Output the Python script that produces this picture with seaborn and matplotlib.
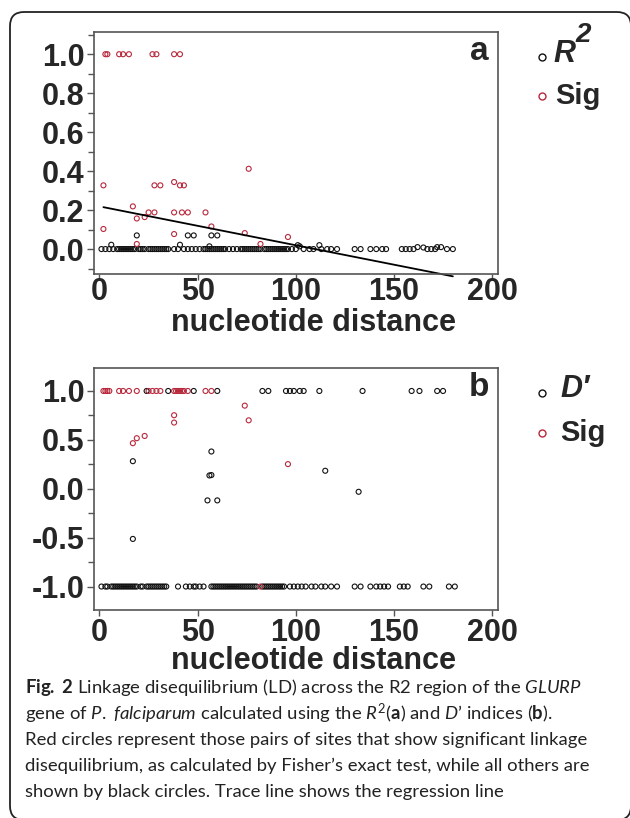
import matplotlib
matplotlib.use("Agg")
import pandas as pd
import matplotlib.pyplot as plt
import seaborn as sns
from matplotlib.lines import Line2D
from matplotlib.patches import FancyBboxPatch
from matplotlib.ticker import MultipleLocator

# ========== Data ==========
# Panel a: R^2 vs nucleotide distance
r2_zero_x = [1, 3, 5, 7, 9, 10, 11, 12, 13, 14, 15, 16, 17, 18, 20, 21, 22, 23, 25, 26,
             27, 28, 29, 30, 31, 32, 33, 34, 35, 38, 40, 43, 45, 47, 49, 51, 53, 54, 55,
             56, 57, 58, 59, 60, 61, 62, 63, 64, 66, 68, 70, 72, 73, 74, 75, 76, 77, 78,
             79, 80, 81, 82, 84, 85, 86, 87, 88, 89, 90, 91, 92, 93, 94, 95, 96, 98, 100,
             104, 107, 109, 113, 116, 118, 121, 130, 133, 138, 141, 144, 146, 154, 156,
             158, 160, 167, 169, 171, 177, 180]
r2_black_x = [6, 19, 41, 45, 48, 56, 57, 60, 101, 102, 112, 162, 165, 172, 174]
r2_black_y = [0.022, 0.07, 0.022, 0.07, 0.07, 0.014, 0.07, 0.07, 0.02, 0.014, 0.02,
              0.01, 0.008, 0.01, 0.01]
r2_sig_x = [3, 4, 10, 12, 15, 27, 29, 38, 41, 2, 2, 17, 19, 19, 23, 25, 28, 28, 31, 38,
            38, 41, 43, 42, 45, 38, 54, 57, 76, 74, 82, 96]
r2_sig_y = [1.0, 1.0, 1.0, 1.0, 1.0, 1.0, 1.0, 1.0, 1.0, 0.327, 0.103, 0.219, 0.157,
            0.026, 0.164, 0.188, 0.188, 0.327, 0.327, 0.188, 0.344, 0.327, 0.327, 0.188,
            0.188, 0.077, 0.188, 0.116, 0.412, 0.082, 0.026, 0.062]
# regression line end points
reg_x = [2, 180]
reg_y = [0.215, -0.14]

# Panel b: D' vs nucleotide distance
dp_neg_x = [1, 3, 4, 6, 7, 8, 9, 10, 11, 12, 13, 14, 15, 16, 17, 18, 19, 21, 22, 24, 25,
            26, 27, 28, 29, 30, 31, 32, 33, 34, 40, 44, 46, 48, 49, 51, 53, 57, 58, 59, 60,
            61, 62, 63, 64, 65, 66, 67, 68, 69, 70, 71, 72, 73, 74, 75, 76, 77, 78, 79, 80,
            83, 84, 85, 86, 87, 88, 89, 90, 91, 92, 93, 94, 97, 99, 101, 103, 105, 108,
            110, 113, 115, 118, 121, 130, 133, 138, 141, 143, 145, 147, 153, 155, 157,
            165, 168, 178, 181]
dp_one_x = [24, 35, 48, 60, 83, 86, 95, 97, 99, 102, 104, 112, 134, 159, 163, 172, 175]
dp_black_x = [17, 17, 57, 56, 57, 55, 60, 115, 132]
dp_black_y = [0.282, -0.513, 0.381, 0.136, 0.14, -0.119, -0.119, 0.184, -0.031]
dp_sig_one_x = [2, 3, 4, 5, 10, 12, 15, 19, 25, 27, 29, 31, 38, 39, 40, 41, 42, 43, 45,
                54, 57]
dp_sig_x = [17, 19, 23, 38, 38, 74, 76, 96, 82]
dp_sig_y = [0.466, 0.517, 0.54, 0.752, 0.677, 0.85, 0.70, 0.252, -1.0]

x_ticks = [0, 50, 100, 150, 200]
a_yticks = [0.0, 0.2, 0.4, 0.6, 0.8, 1.0]
a_ylabels = ["0.0", "0.2", "0.4", "0.6", "0.8", "1.0"]
b_yticks = [-1.0, -0.5, 0.0, 0.5, 1.0]
b_ylabels = ["-1.0", "-0.5", "0.0", "0.5", "1.0"]

BLACK = "#111111"
RED = "#b8283c"

# build tables
a_black = pd.concat([
    pd.DataFrame({"dist": r2_zero_x, "val": 0.0}),
    pd.DataFrame({"dist": r2_black_x, "val": r2_black_y}),
])
a_red = pd.DataFrame({"dist": r2_sig_x, "val": r2_sig_y})
b_black = pd.concat([
    pd.DataFrame({"dist": dp_neg_x, "val": -1.0}),
    pd.DataFrame({"dist": dp_one_x, "val": 1.0}),
    pd.DataFrame({"dist": dp_black_x, "val": dp_black_y}),
])
b_red = pd.concat([
    pd.DataFrame({"dist": dp_sig_one_x, "val": 1.0}),
    pd.DataFrame({"dist": dp_sig_x, "val": dp_sig_y}),
])

# ========== Style ==========
sns.set_style("white")
plt.rcParams["font.family"] = ["Liberation Sans", "DejaVu Sans"]
plt.rcParams["mathtext.fontset"] = "custom"
plt.rcParams["mathtext.rm"] = "Lato"
plt.rcParams["mathtext.it"] = "Lato:italic"
plt.rcParams["mathtext.bf"] = "Lato:bold"

fig = plt.figure(figsize=(6.3, 8.18), dpi=100)
ax_a = fig.add_axes([94 / 630, 1 - 274 / 818, 404 / 630, 242 / 818])
ax_b = fig.add_axes([94 / 630, 1 - 610 / 818, 404 / 630, 242 / 818])


def draw_points(ax, df, color):
    sns.scatterplot(data=df, x="dist", y="val", ax=ax, marker="o", s=13,
                    color=color, linewidth=0.8, legend=False)
    pts = ax.collections[-1]
    pts.set_facecolor("none")
    pts.set_edgecolor(color)


draw_points(ax_a, a_black, BLACK)
draw_points(ax_a, a_red, RED)
ax_a.plot(reg_x, reg_y, color="black", lw=1.3, clip_on=False)

draw_points(ax_b, b_black, BLACK)
draw_points(ax_b, b_red, RED)

ax_a.set_ylim(-0.128, 1.114)
ax_a.set_yticks(a_yticks, labels=a_ylabels)
ax_a.yaxis.set_minor_locator(MultipleLocator(0.1))
ax_b.set_ylim(-1.24, 1.235)
ax_b.set_yticks(b_yticks, labels=b_ylabels)
ax_b.yaxis.set_minor_locator(MultipleLocator(0.25))

for ax, letter, lab_y, xpad in [(ax_a, "a", -0.14, -2), (ax_b, "b", -0.148, 2)]:
    ax.set_xlim(-2.8, 203)
    ax.set_xticks(x_ticks, labels=[str(t) for t in x_ticks])
    for sp in ax.spines.values():
        sp.set_color("#555555")
        sp.set_linewidth(1.2)
    ax.tick_params(axis="both", which="major", direction="out", length=5, width=1,
                   color="#555555", labelsize=22, pad=2, bottom=True, left=True)
    ax.tick_params(axis="x", which="major", length=4, pad=xpad)
    ax.tick_params(axis="y", which="minor", direction="out", length=4, width=1,
                   color="#555555", left=True)
    for lab in ax.get_xticklabels() + ax.get_yticklabels():
        lab.set_fontweight("bold")
    ax.set_xlabel("nucleotide distance", fontsize=22, fontweight="bold")
    ax.set_ylabel("")
    ax.xaxis.set_label_coords(0.543, lab_y)
    ax.text(0.978, 0.985, letter, transform=ax.transAxes, ha="right", va="top",
            fontsize=24, fontweight="bold")

# ========== Legends ==========
def legend_marker(px, py, color):
    fig.add_artist(Line2D([px / 630], [1 - py / 818], marker="o", ms=5, mfc="none",
                          mec=color, mew=1.0, transform=fig.transFigure))


legend_marker(542, 57, BLACK)
legend_marker(542, 96, RED)
fig.text(553 / 630, 1 - 54 / 818, "R", fontsize=22, fontweight="bold", style="italic",
         va="center")
fig.text(575 / 630, 1 - 35 / 818, "2", fontsize=20, fontweight="bold", style="italic",
         va="center")
fig.text(555 / 630, 1 - 96 / 818, "Sig", fontsize=21, fontweight="bold", va="center")

legend_marker(542, 393, BLACK)
legend_marker(542, 433, RED)
fig.text(560 / 630, 1 - 389 / 818, "D\u2032", fontsize=22, fontweight="bold",
         style="italic", va="center")
fig.text(560 / 630, 1 - 433 / 818, "Sig", fontsize=21, fontweight="bold", va="center")

# ========== Caption ==========
caption = [
    r"$\mathbf{Fig.}$ $\mathbf{2}$ Linkage disequilibrium (LD) across the R2 region of the $\mathit{GLURP}$",
    r"gene of $\mathit{P.}$ $\mathit{falciparum}$ calculated using the $\mathit{R}^{2}$($\mathbf{a}$) and $\mathit{D}$’ indices ($\mathbf{b}$).",
    "Red circles represent those pairs of sites that show significant linkage",
    "disequilibrium, as calculated by Fisher\u2019s exact test, while all others are",
    "shown by black circles. Trace line shows the regression line",
]
cap_y = [688, 714, 740, 766, 792]
for line, yy in zip(caption, cap_y):
    fig.text(25 / 630, 1 - yy / 818, line, fontsize=13.3, va="center", ha="left",
             family=["Lato", "DejaVu Sans"], color="#222222")

# rounded frame round the figure
frame = FancyBboxPatch((0.10, -0.02), 6.21, 8.08,
                       boxstyle="round,pad=0,rounding_size=0.14",
                       transform=fig.dpi_scale_trans, fill=False,
                       ec="#222222", lw=1.3)
fig.add_artist(frame)

fig.savefig("out.png", dpi=100)
